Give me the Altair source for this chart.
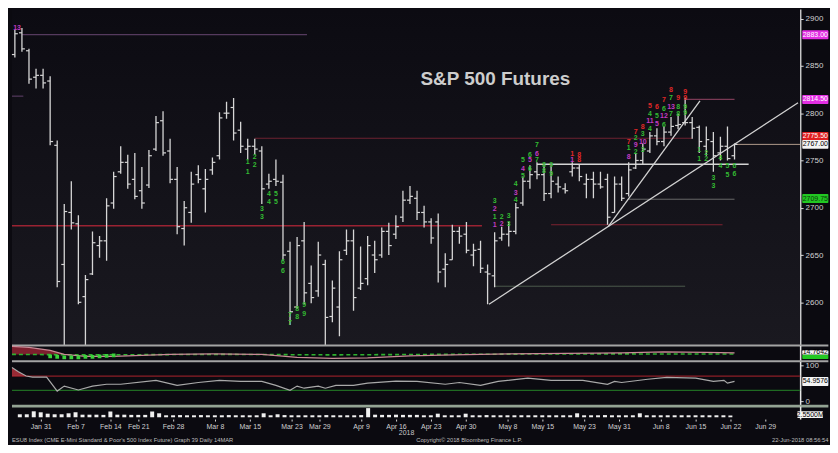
import altair as alt
import pandas as pd

# ------------------------------------------------------------------ data
bar_high = [2888, 2890, 2868, 2847, 2847, 2839, 2771, 2704, 2728, 2692,
            2629, 2675, 2670, 2710, 2738, 2765, 2756, 2758, 2743, 2761,
            2797, 2802, 2773, 2743, 2707, 2738, 2745, 2741, 2753, 2801,
            2812, 2816, 2791, 2773, 2773, 2765, 2736, 2751, 2735, 2664,
            2669, 2685, 2639, 2664, 2645, 2623, 2654, 2677, 2677, 2659,
            2670, 2665, 2679, 2684, 2692, 2718, 2723, 2718, 2702, 2689,
            2694, 2652, 2682, 2680, 2685, 2662, 2665, 2640, 2674, 2680,
            2685, 2705, 2733, 2745, 2748, 2745, 2745, 2733, 2726, 2748,
            2746, 2736, 2738, 2738, 2736, 2733, 2733, 2748, 2758, 2768,
            2780, 2784, 2786, 2796, 2799, 2816, 2796, 2787, 2786, 2780,
            2775, 2786, 2768]
bar_low = [2859, 2865, 2831, 2826, 2826, 2766, 2616, 2530, 2677, 2598,
           2530, 2629, 2647, 2644, 2699, 2736, 2720, 2709, 2699, 2721,
           2760, 2755, 2726, 2672, 2660, 2684, 2726, 2695, 2735, 2751,
           2794, 2771, 2758, 2751, 2756, 2704, 2720, 2723, 2644, 2576,
           2593, 2598, 2599, 2606, 2553, 2579, 2564, 2650, 2591, 2613,
           2618, 2631, 2647, 2650, 2667, 2685, 2704, 2687, 2679, 2662,
           2621, 2616, 2645, 2662, 2652, 2638, 2631, 2598, 2616, 2665,
           2659, 2672, 2702, 2720, 2730, 2707, 2710, 2716, 2715, 2733,
           2728, 2710, 2710, 2720, 2682, 2695, 2707, 2712, 2741, 2746,
           2758, 2766, 2765, 2776, 2783, 2787, 2773, 2758, 2755, 2738,
           2750, 2750, 2751]
bar_open = [2862, 2885, 2866, 2838, 2840, 2834, 2766, 2640, 2695, 2683,
            2606, 2630, 2660, 2665, 2705, 2738, 2748, 2730, 2718, 2724,
            2762, 2792, 2760, 2730, 2678, 2695, 2735, 2720, 2740, 2755,
            2800, 2806, 2782, 2762, 2765, 2760, 2725, 2730, 2727, 2654,
            2595, 2665, 2620, 2612, 2640, 2585, 2595, 2655, 2665, 2615,
            2625, 2650, 2650, 2675, 2672, 2690, 2708, 2710, 2695, 2685,
            2685, 2635, 2645, 2675, 2672, 2650, 2656, 2632, 2628, 2668,
            2672, 2675, 2705, 2728, 2738, 2735, 2715, 2725, 2720, 2738,
            2742, 2725, 2730, 2725, 2730, 2695, 2725, 2715, 2742, 2750,
            2760, 2776, 2770, 2780, 2787, 2790, 2790, 2785, 2765, 2770,
            2758, 2765, 2755]
bar_close = [2884, 2868, 2836, 2840, 2832, 2770, 2622, 2696, 2684, 2600,
             2624, 2663, 2665, 2702, 2733, 2748, 2725, 2712, 2705, 2755,
             2790, 2758, 2730, 2680, 2700, 2725, 2730, 2730, 2748, 2795,
             2800, 2779, 2765, 2765, 2762, 2720, 2728, 2728, 2650, 2590,
             2660, 2610, 2605, 2650, 2584, 2615, 2645, 2665, 2605, 2620,
             2660, 2645, 2675, 2660, 2680, 2708, 2712, 2695, 2685, 2668,
             2632, 2640, 2675, 2670, 2655, 2655, 2636, 2630, 2665, 2672,
             2675, 2700, 2728, 2735, 2735, 2715, 2728, 2722, 2718, 2742,
             2733, 2730, 2725, 2722, 2690, 2725, 2710, 2740, 2750, 2762,
             2776, 2770, 2780, 2786, 2788, 2790, 2784, 2770, 2772, 2755,
             2765, 2752, 2767]
volume = [1.5, 1.5, 3.0, 2.5, 1.8, 1.5, 1.5, 2.0, 2.5, 1.3,
          1.3, 1.3, 1.2, 2.9, 1.3, 1.3, 1.2, 1.2, 1.2, 2.9,
          2.0, 1.0, 1.0, 1.1, 1.0, 1.0, 1.1, 1.0, 1.0, 1.0,
          1.1, 1.0, 1.0, 1.0, 1.0, 2.0, 1.0, 1.5, 1.1, 1.0,
          1.0, 1.0, 1.0, 1.0, 1.1, 1.0, 1.0, 1.0, 1.0, 1.1,
          4.6, 1.3, 1.2, 1.2, 1.3, 1.2, 1.2, 1.2, 1.0, 1.0,
          1.8, 1.0, 1.0, 1.0, 1.8, 1.0, 1.0, 1.1, 1.0, 1.0,
          1.0, 1.0, 1.0, 1.0, 1.0, 1.0, 1.0, 1.0, 1.0, 1.0,
          2.0, 1.0, 1.0, 1.0, 1.1, 1.0, 1.0, 1.0, 1.0, 2.0,
          1.0, 1.0, 1.0, 1.0, 1.0, 1.0, 1.0, 1.0, 1.0, 1.0,
          1.0, 1.0, 0.9]

holidays = ["2018-02-19", "2018-03-30", "2018-05-28"]
tick_dates = ["2018-01-31", "2018-02-07", "2018-02-14", "2018-02-21", "2018-02-28",
              "2018-03-08", "2018-03-15", "2018-03-23", "2018-03-29", "2018-04-09",
              "2018-04-16", "2018-04-23", "2018-04-30", "2018-05-08", "2018-05-15",
              "2018-05-23", "2018-05-31", "2018-06-08", "2018-06-15", "2018-06-22",
              "2018-06-29"]
tick_labels = ["Jan 31", "Feb 7", "Feb 14", "Feb 21", "Feb 28", "Mar 8", "Mar 15",
               "Mar 23", "Mar 29", "Apr 9", "Apr 16", "Apr 23", "Apr 30", "May 8",
               "May 15", "May 23", "May 31", "Jun 8", "Jun 15", "Jun 22", "Jun 29"]

# oscillator panel (upper study)
osc_i = [-0.41, 2, 5, 7, 10, 14, 18, 22, 28, 35, 40, 45, 50, 56, 62, 70, 78, 86, 92, 98, 102]
osc_v = [30, 28, 22, 14, 10, 10, 12, 14, 15, 14, 8, 6, 7, 11, 13, 15, 16, 17, 19, 18, 17]
sig_i = [-0.41, 10, 30, 45, 60, 80, 102]
sig_v = [14, 13, 14, 13, 14, 15, 14.76]
hist_i = [5, 6, 7, 8, 9, 10, 11, 12, 13, 14]
hist_v = [10, 9, 8, 8, 8, 9, 9, 10, 11, 12]

# RSI panel
rsi_i = [-0.41, 0.5, 1.6, 2.5, 4.5, 6, 7, 9, 11, 13, 15, 20, 23, 26, 29, 32, 35, 37, 39, 40,
         41, 43, 44, 45.5, 48, 50, 54, 57, 61, 63, 66, 68.5, 72.7, 76, 80.5, 84, 85, 86,
         89.7, 92.4, 96.5, 99, 100.5, 101, 102]
rsi_v = [94, 82, 70, 67, 67, 28, 42, 31, 42, 47, 47, 58, 44, 52, 58, 55, 55, 44, 30, 42,
         36, 42, 36, 44, 44, 50, 56, 55, 47, 52, 44, 55, 64, 58, 58, 47, 55, 52,
         61, 66, 64, 55, 58, 50, 54.96]

# horizontal levels: (from bar, to bar, price, colour, width)
levels = [(1.0, 41.4, 2883.0, "#553a5e", 1.2),
          (-0.41, 1.2, 2818.0, "#553a5e", 1.2),
          (34.0, 96.0, 2773.5, "#6e2230", 1.2),
          (-0.41, 66.2, 2681.0, "#9a2232", 1.4),
          (76.0, 100.3, 2682.0, "#7e2230", 1.2),
          (95.0, 102.0, 2814.5, "#7a3a55", 1.2),
          (74.0, 104.0, 2746.0, "#d4d4d4", 1.6),
          (87.0, 102.0, 2709.0, "#6a6a6a", 1.0),
          (68.0, 95.0, 2617.0, "#4d5a4d", 1.0),
          (102.0, 111.3, 2767.0, "#b09a8a", 1.0)]

# trend lines: (bar1, price1, bar2, price2)
trends = [(67.2, 2598.0, 111.0, 2811.0),
          (84.1, 2680.0, 97.1, 2813.0)]

# TD sequential counts: (bar, text, colour key, price)
td_counts = [
    (0.3, "13", "m", 2890),
    (33, "1", "g", 2748), (33, "1", "g", 2738), (34, "2", "g", 2754), (34, "2", "g", 2745),
    (35, "3", "g", 2699), (35, "3", "g", 2690), (36, "4", "g", 2715), (36, "4", "g", 2706),
    (37, "5", "g", 2715), (37, "5", "g", 2706), (38, "6", "g", 2643), (38, "6", "g", 2633),
    (39, "7", "g", 2587), (39, "7", "g", 2578), (40, "8", "g", 2593), (40, "8", "g", 2584),
    (41, "9", "g", 2597), (41, "9", "g", 2588),
    (68, "3", "g", 2707), (68, "2", "m", 2699), (68, "1", "g", 2690), (68, "1", "m", 2682),
    (69, "2", "g", 2690), (69, "2", "m", 2683),
    (70, "3", "g", 2691), (70, "3", "g", 2683),
    (71, "4", "g", 2725), (71, "3", "m", 2716), (71, "4", "g", 2708),
    (72, "5", "g", 2750), (72, "4", "m", 2741), (72, "5", "g", 2734),
    (73, "6", "g", 2756), (73, "5", "m", 2750), (73, "6", "g", 2741),
    (74, "7", "g", 2766), (74, "6", "m", 2757), (74, "7", "g", 2750),
    (75, "8", "g", 2745), (75, "8", "g", 2739),
    (76, "9", "g", 2745), (76, "9", "g", 2736),
    (79, "1", "r", 2757), (79, "1", "m", 2750),
    (80, "8", "r", 2756), (80, "8", "r", 2750),
    (87, "7", "r", 2770), (87, "1", "g", 2763), (87, "8", "m", 2754),
    (88, "7", "r", 2780), (88, "2", "g", 2774), (88, "9", "m", 2766), (88, "2", "g", 2759),
    (89, "8", "r", 2785), (89, "3", "g", 2778), (89, "10", "m", 2770), (89, "3", "g", 2761),
    (90, "5", "r", 2808), (90, "4", "g", 2799), (90, "11", "m", 2792), (90, "4", "g", 2783),
    (91, "6", "r", 2806), (91, "5", "g", 2797), (91, "5", "m", 2789),
    (92, "7", "r", 2814), (92, "6", "g", 2804), (92, "12", "m", 2797), (92, "6", "g", 2788),
    (93, "8", "r", 2824), (93, "7", "g", 2816), (93, "13", "m", 2806), (93, "7", "g", 2799),
    (94, "9", "r", 2816), (94, "8", "g", 2806), (94, "8", "g", 2799),
    (95, "9", "r", 2822), (95, "9", "r", 2816), (95, "9", "g", 2807), (95, "9", "g", 2800),
    (97, "1", "g", 2761), (97, "1", "g", 2752), (98, "2", "g", 2758), (98, "2", "g", 2752),
    (99, "3", "g", 2731), (99, "3", "g", 2723), (100, "4", "g", 2753), (100, "4", "g", 2744),
    (101, "5", "g", 2744), (101, "5", "g", 2735), (102, "6", "g", 2744), (102, "6", "g", 2736),
]
td_colors = {"g": "#33bb33", "m": "#c23cc2", "r": "#e02828"}

# right-hand value tags: (value, text, background, foreground)
price_tags = [(2883.0, "2883.00", "#e22ee2", "#ffffff"),
              (2814.5, "2814.50", "#e22ee2", "#ffffff"),
              (2775.5, "2775.50", "#e02020", "#ffffff"),
              (2767.0, "2767.00", "#f4f4f4", "#000000"),
              (2709.75, "2709.75", "#22c822", "#0b3a0b")]
osc_tags = [(18.0, "14.7642", "#f4f4f4", "#000000"), (9.0, "", "#22c822", "#000000")]
rsi_tags = [(54.96, "54.9576", "#f4f4f4", "#000000")]
vol_tags = [(1.3, "2.5500M", "#f4f4f4", "#000000")]

title_text = "S&P 500 Futures"
footer_left = "ESU8 Index (CME E-Mini Standard & Poor's 500 Index Future) Graph 39  Daily 14MAR"
footer_mid = "Copyright\u00a9 2018 Bloomberg Finance L.P."
footer_right = "22-Jun-2018 08:56:54"

# ------------------------------------------------------------------ frames
date_str = [d.strftime("%Y-%m-%d") for d in pd.bdate_range("2018-01-26", "2018-06-29")
            if d.strftime("%Y-%m-%d") not in holidays]
n = len(bar_high)
tick_idx = [date_str.index(d) for d in tick_dates]

bars = pd.DataFrame({"i": list(range(n)), "date": date_str[:n], "high": bar_high,
                     "low": bar_low, "open": bar_open, "close": bar_close, "vol": volume})

W = 792
XDOM = [-0.41, 111.3]
XR = 115.3
TAG_X1, TAG_X2 = 111.6, 115.3
xscale = alt.Scale(domain=XDOM, nice=False, zero=False)
NARROW = "Liberation Sans Narrow, Arial Narrow, Liberation Sans"
BAR_C = "#d6d6d6"


def make_x(axis):
    def X(field):
        return alt.X(f"{field}:Q", scale=xscale, axis=axis)
    return X


Xn = make_x(None)


def tag_layers(tags, yfun, half, X=Xn):
    df = pd.DataFrame(tags, columns=["p", "t", "bg", "fg"])
    df["x1"] = TAG_X1
    df["x2"] = TAG_X2
    df["xm"] = (TAG_X1 + TAG_X2) / 2
    df["lo"] = df["p"] - half
    df["hi"] = df["p"] + half
    r = alt.Chart(df).mark_rect(cornerRadius=1).encode(
        x=X("x1"), x2="x2:Q", y=yfun("lo"), y2="hi:Q",
        color=alt.Color("bg:N", scale=None))
    t = alt.Chart(df).mark_text(font=NARROW, fontSize=7, baseline="middle").encode(
        x=X("xm"), y=yfun("p"), text="t:N", color=alt.Color("fg:N", scale=None))
    return [r, t]


def sep_layer(yfun, yval, color, width):
    df = pd.DataFrame({"x1": [XDOM[0]], "x2": [XR], "y": [yval]})
    return alt.Chart(df).mark_rule(color=color, strokeWidth=width).encode(
        x=Xn("x1"), x2="x2:Q", y=yfun("y"))


# ------------------------------------------------------------------ main panel
YDOM = [2554.4, 2910.1]
yscale = alt.Scale(domain=YDOM, nice=False, zero=False)
main_axis = alt.Axis(orient="right", values=[2600, 2650, 2700, 2750, 2800, 2850, 2900],
                     format="d", title=None, tickSize=3, labelPadding=2, domainWidth=1.5,
                     labelFlush=False, labelOverlap=False)


def YM(field):
    return alt.Y(f"{field}:Q", scale=yscale, axis=main_axis)


bg_df = pd.DataFrame({"x1": [XDOM[0]], "x2": [XDOM[1]], "y1": [YDOM[0]], "y2": [YDOM[1]]})
grad = alt.Gradient(gradient="linear",
                    stops=[alt.GradientStop(color="#1a1920", offset=0),
                           alt.GradientStop(color="#0c0b12", offset=1)],
                    x1=0, x2=0, y1=1, y2=0)
bg = alt.Chart(bg_df).mark_rect(color=grad).encode(x=Xn("x1"), x2="x2:Q", y=YM("y1"), y2="y2:Q")

lv_df = pd.DataFrame(levels, columns=["x1", "x2", "p", "col", "w"])
lv = alt.Chart(lv_df).mark_rule().encode(
    x=Xn("x1"), x2="x2:Q", y=YM("p"),
    color=alt.Color("col:N", scale=None), strokeWidth=alt.StrokeWidth("w:Q", scale=None))

tr_df = pd.DataFrame(trends, columns=["x1", "p1", "x2", "p2"])
tr = alt.Chart(tr_df).mark_rule(color="#d2d2d2", strokeWidth=1.3).encode(
    x=Xn("x1"), x2="x2:Q", y=YM("p1"), y2="p2:Q")

hl = alt.Chart(bars).mark_rule(color=BAR_C, strokeWidth=1.3, clip=True).encode(
    x=Xn("i"), y=YM("low"), y2="high:Q")
op = alt.Chart(bars).transform_calculate(xo="datum.i - 0.42").mark_rule(
    color=BAR_C, strokeWidth=1.2).encode(x=Xn("xo"), x2="i:Q", y=YM("open"))
cl = alt.Chart(bars).transform_calculate(xc="datum.i + 0.42").mark_rule(
    color=BAR_C, strokeWidth=1.2).encode(x=Xn("i"), x2="xc:Q", y=YM("close"))

td_df = pd.DataFrame(td_counts, columns=["i", "t", "k", "p"])
td_df["c"] = td_df["k"].map(td_colors)
td = alt.Chart(td_df).mark_text(font="Liberation Sans", fontSize=7, fontWeight="bold",
                                baseline="middle").encode(
    x=Xn("i"), y=YM("p"), text="t:N", color=alt.Color("c:N", scale=None))

ttl_df = pd.DataFrame({"i": [68.1], "p": [2836.0], "t": [title_text]})
ttl = alt.Chart(ttl_df).mark_text(font="Liberation Sans", fontSize=19, fontWeight="bold",
                                  color="#cdcdcd", baseline="middle").encode(
    x=Xn("i"), y=YM("p"), text="t:N")

main = alt.layer(bg, lv, tr, hl, op, cl, td, ttl,
                 *tag_layers(price_tags, YM, 4.7),
                 sep_layer(YM, YDOM[0], "#a4a4a4", 2)).properties(width=W, height=338)

# ------------------------------------------------------------------ oscillator panel
ODOM = [0, 32]
oscale = alt.Scale(domain=ODOM, nice=False, zero=False)
empty_axis = alt.Axis(orient="right", values=[0], title=None, ticks=False, labels=False,
                      domainWidth=1.5)


def YO(field):
    return alt.Y(f"{field}:Q", scale=oscale, axis=empty_axis)


osc_df = pd.DataFrame({"i": osc_i, "v": osc_v})
sig_df = pd.DataFrame({"i": sig_i, "v": sig_v})
hist_df = pd.DataFrame({"i": hist_i, "v": hist_v})
area_df = pd.DataFrame({"i": osc_i[:4], "v": osc_v[:4], "b": [14, 14, 14, 14]})

o_area = alt.Chart(area_df).mark_area(color="#9a2436", opacity=0.8).encode(
    x=Xn("i"), y=YO("v"), y2="b:Q")
o_line = alt.Chart(osc_df).mark_line(color="#c98a96", strokeWidth=1.2).encode(x=Xn("i"), y=YO("v"))
o_sig = alt.Chart(sig_df).mark_line(color="#2fb02f", strokeWidth=1.6, strokeDash=[4, 3]).encode(
    x=Xn("i"), y=YO("v"))
o_hist = alt.Chart(hist_df).mark_square(color="#3ad13a", size=14, opacity=1).encode(
    x=Xn("i"), y=YO("v"))

osc = alt.layer(o_area, o_sig, o_line, o_hist, *tag_layers(osc_tags, YO, 4.5),
                sep_layer(YO, ODOM[0], "#a4a4a4", 2)).properties(width=W, height=16)

# ------------------------------------------------------------------ RSI panel
RDOM = [-14, 111]
rscale = alt.Scale(domain=RDOM, nice=False, zero=False)
rsi_axis = alt.Axis(orient="right", values=[0, 100], format="d", title=None, tickSize=3,
                    labelPadding=2, domainWidth=1.5, labelFlush=False, labelOverlap=False)


def YR(field):
    return alt.Y(f"{field}:Q", scale=rscale, axis=rsi_axis)


rsi_df = pd.DataFrame({"i": rsi_i, "v": rsi_v})
rarea_df = pd.DataFrame({"i": rsi_i[:3], "v": rsi_v[:3], "b": [70, 70, 70]})
band_df = pd.DataFrame({"x1": [XDOM[0], XDOM[0]], "x2": [XDOM[1], XDOM[1]], "y": [70, 30],
                        "c": ["#8e1e26", "#1f6a22"]})

r_area = alt.Chart(rarea_df).mark_area(color="#b0303c", opacity=0.85).encode(
    x=Xn("i"), y=YR("v"), y2="b:Q")
r_band = alt.Chart(band_df).mark_rule(strokeWidth=1.2).encode(
    x=Xn("x1"), x2="x2:Q", y=YR("y"), color=alt.Color("c:N", scale=None))
r_line = alt.Chart(rsi_df).mark_line(color="#a9a9a9", strokeWidth=1.2).encode(x=Xn("i"), y=YR("v"))

rsi = alt.layer(r_band, r_area, r_line, *tag_layers(rsi_tags, YR, 12.5),
                sep_layer(YR, RDOM[0], "#93a393", 3)).properties(width=W, height=45)

# ------------------------------------------------------------------ volume panel
VDOM = [-0.9, 5.6]
vscale = alt.Scale(domain=VDOM, nice=False, zero=False)
expr = " : ".join(f"datum.value == {k} ? '{l}'" for k, l in zip(tick_idx, tick_labels)) + " : ''"
x_axis = alt.Axis(values=tick_idx, labelExpr=expr, title="2018", tickSize=2, labelPadding=1,
                  domain=False, labelFlush=False, labelOverlap=False, titlePadding=0,
                  labelFontSize=7, titleFontSize=7)
Xv = make_x(x_axis)


def YV(field):
    return alt.Y(f"{field}:Q", scale=vscale, axis=empty_axis)


bars_v = bars.assign(base=0.0)
v_bars = alt.Chart(bars_v).mark_bar(color="#f0f0f0", size=4).encode(
    x=Xv("i"), y=YV("vol"), y2="base:Q")

vol = alt.layer(v_bars, *tag_layers(vol_tags, YV, 1.7, X=Xv)).properties(width=W, height=13)

# ------------------------------------------------------------------ footer
ft_df = pd.DataFrame({"i": [XDOM[0], 64.4, XR], "t": [footer_left, footer_mid, footer_right]})
ft_layers = []
for k, al in enumerate(["left", "center", "right"]):
    ft_layers.append(
        alt.Chart(ft_df.iloc[[k]]).mark_text(font=NARROW, fontSize=5.8, color="#bdbdbd",
                                             align=al, baseline="middle").encode(
            x=Xn("i"), y=alt.value(4), text="t:N"))
footer = alt.layer(*ft_layers).properties(width=W, height=8)

# ------------------------------------------------------------------ assemble
upper = alt.vconcat(main, osc, rsi, vol, spacing=0, bounds="flush")
chart = alt.vconcat(upper, footer, spacing=0).properties(
    background="#0b0a10", padding=0
).configure_view(stroke=None).configure_axis(
    grid=False, labelFont=NARROW, labelColor="#d0d0d0", labelFontSize=8,
    tickColor="#d8d8d8", domainColor="#e6e6e6", titleFont=NARROW, titleColor="#c8c8c8",
    titleFontWeight="normal"
)

chart.save("out.html", embed_options={"renderer": "svg", "actions": False})
